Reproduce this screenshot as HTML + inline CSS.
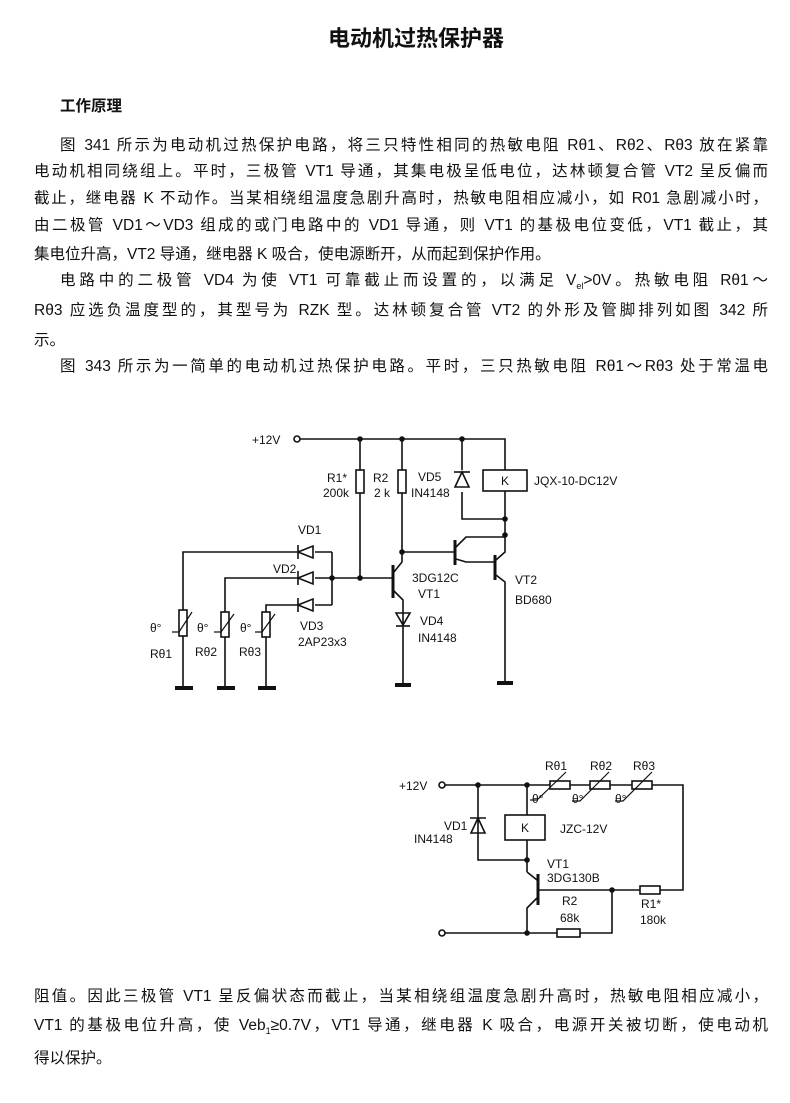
<!DOCTYPE html>
<html><head><meta charset="utf-8"><style>
body{margin:0;width:790px;height:1103px;background:#fff;position:relative;overflow:hidden;font-family:"Liberation Sans","Noto Sans CJK SC",sans-serif;color:#111}
.t{position:absolute;font-size:15.5px;white-space:nowrap}
.j{position:absolute;left:34px;width:734px;font-size:15.5px;text-align:justify;text-align-last:justify;white-space:nowrap;overflow:hidden;line-height:20px}
svg{position:absolute;left:0;top:0}
svg text{font-family:"Liberation Sans",sans-serif;font-size:12px;fill:#111}
</style></head><body>
<div class="t" style="left:328px;top:21px;font-size:22px;font-weight:bold">电动机过热保护器</div>
<div class="t" style="left:60px;top:94px;font-weight:bold">工作原理</div>
<div class="j" style="top:136px;left:60px;width:708px">图 341 所示为电动机过热保护电路，将三只特性相同的热敏电阻 Rθ1、Rθ2、Rθ3 放在紧靠</div>
<div class="j" style="top:162px">电动机相同绕组上。平时，三极管 VT1 导通，其集电极呈低电位，达林顿复合管 VT2 呈反偏而</div>
<div class="j" style="top:189px">截止，继电器 K 不动作。当某相绕组温度急剧升高时，热敏电阻相应减小，如 R01 急剧减小时，</div>
<div class="j" style="top:216px">由二极管 VD1～VD3 组成的或门电路中的 VD1 导通，则 VT1 的基极电位变低，VT1 截止，其</div>
<div class="t" style="left:34px;top:242px">集电位升高，VT2 导通，继电器 K 吸合，使电源断开，从而起到保护作用。</div>
<div class="j" style="top:271px;left:60px;width:708px">电路中的二极管 VD4 为使 VT1 可靠截止而设置的，以满足 V<sub style="font-size:9px;line-height:0">el</sub>&gt;0V。热敏电阻 Rθ1～</div>
<div class="j" style="top:301px">Rθ3 应选负温度型的，其型号为 RZK 型。达林顿复合管 VT2 的外形及管脚排列如图 342 所</div>
<div class="t" style="left:34px;top:328px">示。</div>
<div class="j" style="top:357px;left:60px;width:708px">图 343 所示为一简单的电动机过热保护电路。平时，三只热敏电阻 Rθ1～Rθ3 处于常温电</div>
<div class="j" style="top:987px">阻值。因此三极管 VT1 呈反偏状态而截止，当某相绕组温度急剧升高时，热敏电阻相应减小，</div>
<div class="j" style="top:1016px">VT1 的基极电位升高，使 Veb<sub style="font-size:9px;line-height:0">1</sub>≥0.7V，VT1 导通，继电器 K 吸合，电源开关被切断，使电动机</div>
<div class="t" style="left:34px;top:1046px">得以保护。</div>

<svg width="790" height="1103" viewBox="0 0 790 1103" stroke="#111" stroke-width="1.6" fill="none">
<!-- Circuit 1 -->
<circle cx="297" cy="439" r="3" fill="#fff"/>
<path d="M300 439H505V470M505 491V535M462 439V470M462 492V519H505"/>
<path d="M360 439V470M360 493V578M402 439V470M402 493V552H455"/>
<rect x="356" y="470" width="8" height="23"/><rect x="398" y="470" width="8" height="23"/>
<path d="M462 472L455 487H469Z"/><path d="M454 472H470"/>
<rect x="483" y="470" width="44" height="21"/>
<circle cx="360" cy="439" r="2" fill="#111"/><circle cx="402" cy="439" r="2" fill="#111"/><circle cx="462" cy="439" r="2" fill="#111"/>
<circle cx="505" cy="519" r="2" fill="#111"/><circle cx="505" cy="535" r="2" fill="#111"/><circle cx="402" cy="552" r="2" fill="#111"/>
<circle cx="360" cy="578" r="2" fill="#111"/><circle cx="332" cy="578" r="2" fill="#111"/>
<path d="M455 540V565" stroke-width="3"/><path d="M456 547L466 537H505M456 559L466 562H495"/>
<path d="M495 555V580" stroke-width="3"/><path d="M496 560L505 552V535M496 575L505 582V683"/>
<path d="M497 683H513" stroke-width="4"/>
<path d="M393 565V598" stroke-width="3"/><path d="M332 578H393M394 572L402 562V552M394 591L403 600V683"/>
<path d="M403 625L396 613H410Z"/><path d="M396 626H410"/>
<path d="M395 685H411" stroke-width="4"/>
<path d="M332 552V605M315 552H332M315 578H332M315 605H332"/>
<path d="M298 552L313 546V558ZM298 578L313 572V584ZM298 605L313 599V611Z"/>
<path d="M298 545V559M298 571V585M298 598V612"/>
<path d="M298 552H183V610M298 578H225V612M298 605H266V612"/>
<rect x="179" y="610" width="8" height="26"/><rect x="221" y="612" width="8" height="25"/><rect x="262" y="612" width="8" height="25"/>
<path d="M183 636V687M225 637V687M266 637V687"/>
<path d="M172 632L179 632L192 612M214 632L221 632L234 614M255 632L262 632L275 614" stroke-width="1.2"/>
<path d="M175 688H193M217 688H235M258 688H276" stroke-width="4"/>
<g stroke="none" fill="#111">
<text x="252" y="444" font-size="13">+12V</text>
<text x="327" y="482">R1*</text><text x="323" y="497">200k</text>
<text x="373" y="482">R2</text><text x="374" y="497">2 k</text>
<text x="418" y="481">VD5</text><text x="411" y="497">IN4148</text>
<text x="534" y="485">JQX-10-DC12V</text>
<text x="298" y="534">VD1</text><text x="273" y="573">VD2</text><text x="300" y="630">VD3</text>
<text x="298" y="646">2AP23x3</text>
<text x="412" y="582">3DG12C</text><text x="418" y="598">VT1</text>
<text x="420" y="625">VD4</text><text x="418" y="642">IN4148</text>
<text x="515" y="584">VT2</text><text x="515" y="604">BD680</text>
<text x="150" y="632">θ°</text><text x="197" y="632">θ°</text><text x="240" y="632">θ°</text>
<text x="150" y="658">Rθ1</text><text x="195" y="656">Rθ2</text><text x="239" y="656">Rθ3</text>
<text x="501" y="485">K</text>
</g>
<!-- Circuit 2 -->
<circle cx="442" cy="785" r="3" fill="#fff"/>
<path d="M445 785H550M570 785H590M610 785H632M652 785H683V890H660M640 890H538"/>
<rect x="550" y="781" width="20" height="8"/><rect x="590" y="781" width="20" height="8"/><rect x="632" y="781" width="20" height="8"/>
<rect x="640" y="886" width="20" height="8"/>
<path d="M530 800H537L566 772M572 801H580L609 772M615 801H623L652 772" stroke-width="1.2"/>
<path d="M478 785V860H527M478 818L471 833H485Z M470 818H486"/>
<path d="M527 785V815M527 840V872"/>
<rect x="505" y="815" width="40" height="25"/>
<path d="M538 874V905" stroke-width="3"/><path d="M537 880L527 872M537 898L527 908V933"/>
<path d="M612 890V933H580M557 933H445"/><circle cx="442" cy="933" r="3" fill="#fff"/>
<rect x="557" y="929" width="23" height="8"/>
<circle cx="478" cy="785" r="2" fill="#111"/><circle cx="527" cy="785" r="2" fill="#111"/><circle cx="527" cy="860" r="2" fill="#111"/><circle cx="612" cy="890" r="2" fill="#111"/><circle cx="527" cy="933" r="2" fill="#111"/>
<g stroke="none" fill="#111">
<text x="399" y="790">+12V</text>
<text x="545" y="770">Rθ1</text><text x="590" y="770">Rθ2</text><text x="633" y="770">Rθ3</text>
<text x="532" y="803">θ°</text><text x="572" y="803">θ°</text><text x="615" y="803">θ°</text>
<text x="521" y="832">K</text><text x="560" y="833">JZC-12V</text>
<text x="444" y="830">VD1</text><text x="414" y="843">IN4148</text>
<text x="547" y="868">VT1</text><text x="547" y="882">3DG130B</text>
<text x="562" y="905">R2</text><text x="560" y="922">68k</text>
<text x="641" y="908">R1*</text><text x="640" y="924">180k</text>
</g>
</svg>
</body></html>
